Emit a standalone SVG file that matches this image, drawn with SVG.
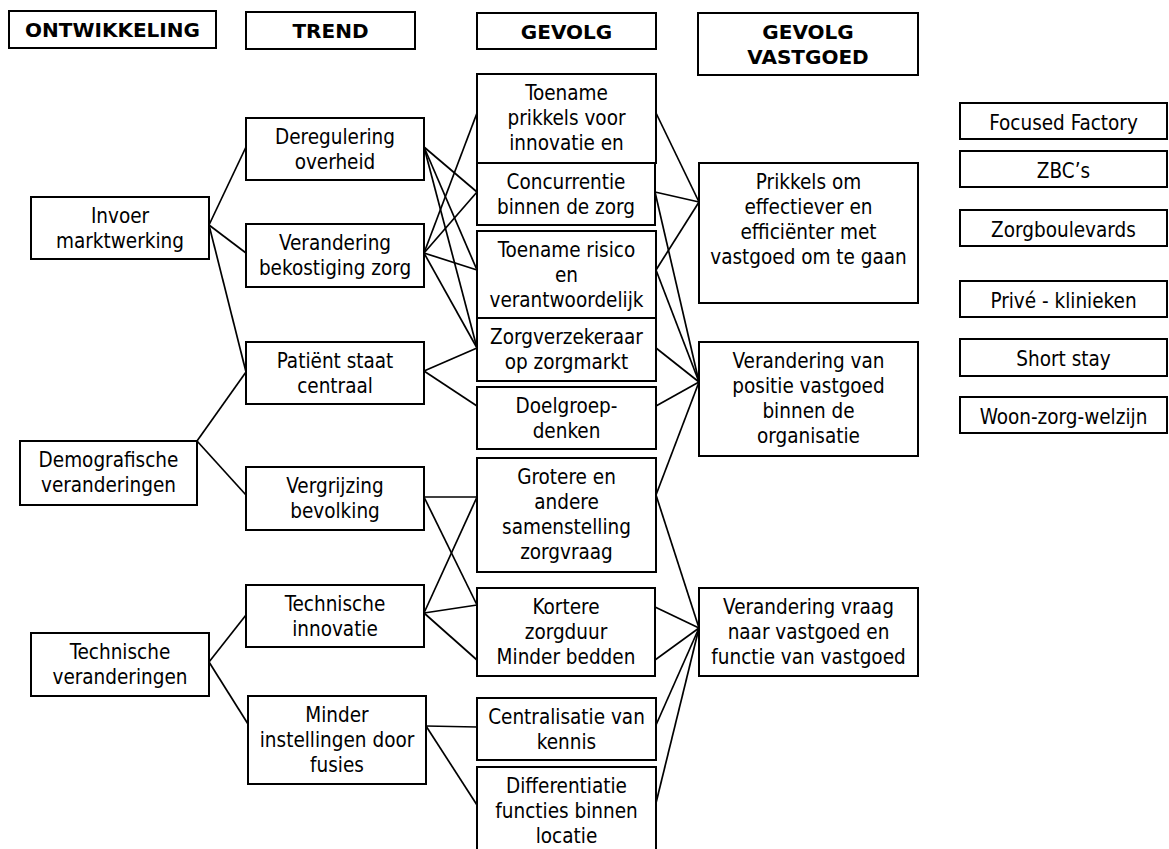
<svg xmlns="http://www.w3.org/2000/svg" width="1169" height="849" viewBox="0 0 1169 849">
<style>
rect{fill:#fff;stroke:#000;stroke-width:2}
text{font-family:'DejaVu Sans Condensed','DejaVu Sans',sans-serif;font-stretch:condensed;font-size:20.5px;fill:#000;text-anchor:middle}
text.h{font-family:'DejaVu Sans',sans-serif;font-stretch:normal;font-weight:bold;font-size:20px}
#connectors line{stroke:#000;stroke-width:1.7}
</style>
<rect x="0" y="0" width="1169" height="849" style="stroke:none"/>
<g id="connectors">
<line x1="209" y1="225" x2="246" y2="147"/>
<line x1="209" y1="225" x2="246" y2="253"/>
<line x1="209" y1="225" x2="246" y2="372"/>
<line x1="197" y1="441" x2="246" y2="372"/>
<line x1="197" y1="441" x2="246" y2="495"/>
<line x1="209" y1="662" x2="246" y2="615"/>
<line x1="209" y1="662" x2="248" y2="724"/>
<line x1="424" y1="147" x2="477" y2="192"/>
<line x1="424" y1="147" x2="477" y2="270"/>
<line x1="424" y1="147" x2="477" y2="348"/>
<line x1="424" y1="253" x2="477" y2="113"/>
<line x1="424" y1="253" x2="477" y2="192"/>
<line x1="424" y1="253" x2="477" y2="270"/>
<line x1="424" y1="253" x2="477" y2="348"/>
<line x1="424" y1="371" x2="477" y2="348"/>
<line x1="424" y1="371" x2="477" y2="406"/>
<line x1="424" y1="497" x2="477" y2="497"/>
<line x1="424" y1="497" x2="477" y2="605"/>
<line x1="424" y1="613" x2="477" y2="497"/>
<line x1="424" y1="613" x2="477" y2="605"/>
<line x1="424" y1="613" x2="477" y2="660"/>
<line x1="426" y1="726" x2="477" y2="727"/>
<line x1="426" y1="726" x2="477" y2="805"/>
<line x1="656" y1="113" x2="699" y2="202"/>
<line x1="655" y1="192" x2="699" y2="202"/>
<line x1="656" y1="270" x2="699" y2="202"/>
<line x1="655" y1="192" x2="699" y2="382"/>
<line x1="656" y1="270" x2="699" y2="382"/>
<line x1="656" y1="348" x2="699" y2="382"/>
<line x1="656" y1="406" x2="699" y2="382"/>
<line x1="656" y1="495" x2="699" y2="382"/>
<line x1="656" y1="495" x2="699" y2="628"/>
<line x1="655" y1="607" x2="699" y2="628"/>
<line x1="655" y1="660" x2="699" y2="628"/>
<line x1="656" y1="725" x2="699" y2="628"/>
<line x1="656" y1="803" x2="699" y2="628"/>
</g>
<g id="hdr-ontwikkeling"><rect x="9" y="11" width="207" height="37"/><text class="h" x="112.5" y="37">ONTWIKKELING</text></g>
<g id="hdr-trend"><rect x="246" y="12" width="169" height="37"/><text class="h" x="330.5" y="38">TREND</text></g>
<g id="hdr-gevolg"><rect x="477" y="13" width="179" height="36"/><text class="h" x="566.5" y="39">GEVOLG</text></g>
<g id="hdr-vastgoed"><rect x="698" y="13" width="220" height="62"/><text class="h" x="808" y="39">GEVOLG</text><text class="h" x="808" y="64">VASTGOED</text></g>
<g id="invoer"><rect x="31" y="197" width="178" height="62"/><text x="120" y="223">Invoer</text><text x="120" y="248">marktwerking</text></g>
<g id="demografisch"><rect x="20" y="441" width="177" height="64"/><text x="108.5" y="467">Demografische</text><text x="108.5" y="492">veranderingen</text></g>
<g id="technisch"><rect x="31" y="633" width="178" height="63"/><text x="120" y="659">Technische</text><text x="120" y="684">veranderingen</text></g>
<g id="deregulering"><rect x="246" y="118" width="178" height="62"/><text x="335" y="144">Deregulering</text><text x="335" y="169">overheid</text></g>
<g id="bekostiging"><rect x="246" y="224" width="178" height="63"/><text x="335" y="250">Verandering</text><text x="335" y="275">bekostiging zorg</text></g>
<g id="patient"><rect x="246" y="342" width="178" height="62"/><text x="335" y="368">Patiënt staat</text><text x="335" y="393">centraal</text></g>
<g id="vergrijzing"><rect x="246" y="467" width="178" height="63"/><text x="335" y="493">Vergrijzing</text><text x="335" y="518">bevolking</text></g>
<g id="innovatie"><rect x="246" y="585" width="178" height="62"/><text x="335" y="611">Technische</text><text x="335" y="636">innovatie</text></g>
<g id="fusies"><rect x="248" y="696" width="178" height="88"/><text x="337" y="722">Minder</text><text x="337" y="747">instellingen door</text><text x="337" y="772">fusies</text></g>
<g id="prikkels-innovatie"><rect x="477" y="74" width="179" height="89"/><text x="566.5" y="100">Toename</text><text x="566.5" y="125">prikkels voor</text><text x="566.5" y="150">innovatie en</text></g>
<g id="concurrentie"><rect x="477" y="163" width="178" height="62"/><text x="566" y="189">Concurrentie</text><text x="566" y="214">binnen de zorg</text></g>
<g id="risico"><rect x="477" y="231" width="179" height="87"/><text x="566.5" y="257">Toename risico</text><text x="566.5" y="282">en</text><text x="566.5" y="307">verantwoordelijk</text></g>
<g id="zorgverzekeraar"><rect x="477" y="318" width="179" height="63"/><text x="566.5" y="344">Zorgverzekeraar</text><text x="566.5" y="369">op zorgmarkt</text></g>
<g id="doelgroep"><rect x="477" y="387" width="179" height="62"/><text x="566.5" y="413">Doelgroep-</text><text x="566.5" y="438">denken</text></g>
<g id="zorgvraag"><rect x="477" y="458" width="179" height="114"/><text x="566.5" y="484">Grotere en</text><text x="566.5" y="509">andere</text><text x="566.5" y="534">samenstelling</text><text x="566.5" y="559">zorgvraag</text></g>
<g id="zorgduur"><rect x="477" y="588" width="178" height="88"/><text x="566" y="614">Kortere</text><text x="566" y="639">zorgduur</text><text x="566" y="664">Minder bedden</text></g>
<g id="centralisatie"><rect x="477" y="698" width="179" height="62"/><text x="566.5" y="724">Centralisatie van</text><text x="566.5" y="749">kennis</text></g>
<g id="differentiatie"><rect x="477" y="767" width="179" height="90"/><text x="566.5" y="793">Differentiatie</text><text x="566.5" y="818">functies binnen</text><text x="566.5" y="843">locatie</text></g>
<g id="vg-prikkels"><rect x="699" y="163" width="219" height="140"/><text x="808.5" y="189">Prikkels om</text><text x="808.5" y="214">effectiever en</text><text x="808.5" y="239">efficiënter met</text><text x="808.5" y="264">vastgoed om te gaan</text></g>
<g id="vg-positie"><rect x="699" y="342" width="219" height="114"/><text x="808.5" y="368">Verandering van</text><text x="808.5" y="393">positie vastgoed</text><text x="808.5" y="418">binnen de</text><text x="808.5" y="443">organisatie</text></g>
<g id="vg-vraag"><rect x="699" y="588" width="219" height="88"/><text x="808.5" y="614">Verandering vraag</text><text x="808.5" y="639">naar vastgoed en</text><text x="808.5" y="664">functie van vastgoed</text></g>
<g id="focused"><rect x="960" y="103" width="207" height="36"/><text x="1063.5" y="130">Focused Factory</text></g>
<g id="zbc"><rect x="960" y="151" width="207" height="36"/><text x="1063.5" y="178">ZBC’s</text></g>
<g id="boulevards"><rect x="960" y="210" width="207" height="36"/><text x="1063.5" y="237">Zorgboulevards</text></g>
<g id="prive"><rect x="960" y="281" width="207" height="36"/><text x="1063.5" y="308">Privé - klinieken</text></g>
<g id="shortstay"><rect x="960" y="339" width="207" height="37"/><text x="1063.5" y="366">Short stay</text></g>
<g id="woonzorg"><rect x="960" y="397" width="207" height="36"/><text x="1063.5" y="424">Woon-zorg-welzijn</text></g>
</svg>
